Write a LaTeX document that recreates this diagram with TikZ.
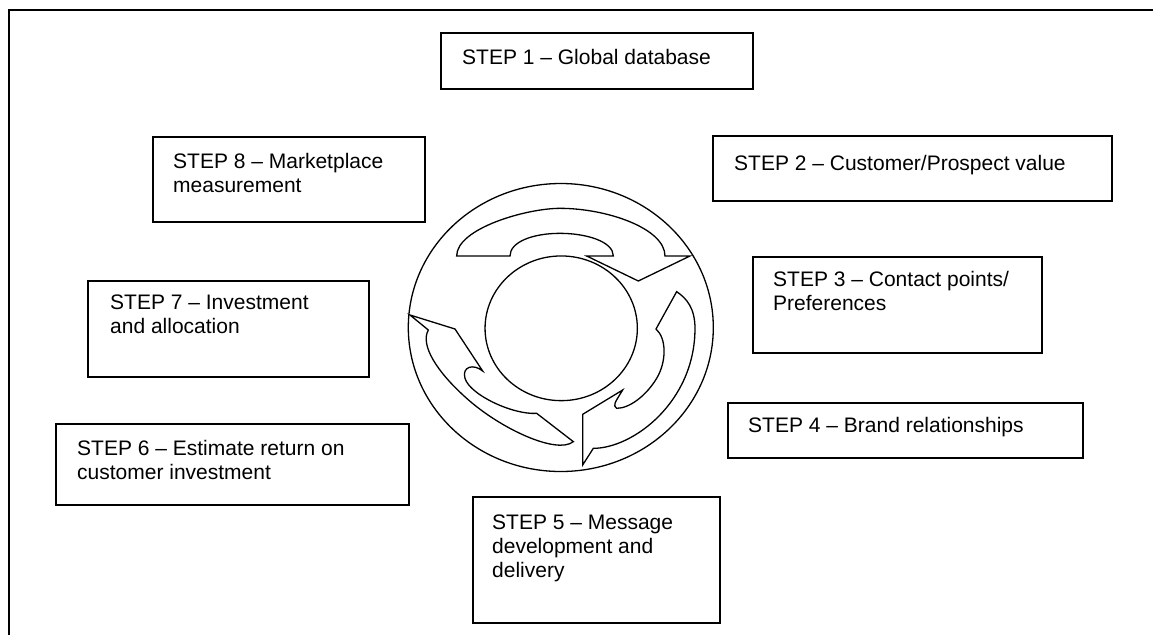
\documentclass[tikz,border=0pt]{standalone}
\usepackage{fontspec}
\setmainfont{Liberation Sans}
\usetikzlibrary{fit,shapes.geometric}
\begin{document}
\begin{tikzpicture}[x=1pt,y=-1pt,
  stepbox/.style={draw, line width=1.6pt, rectangle, inner sep=0pt},
  steptext/.style={anchor=north west, inner sep=0pt, align=left, font=\fontsize{21}{24}\selectfont},
  ring/.style={draw, line width=1.3pt, ellipse, inner sep=0pt},
  cyc/.style={draw, line width=1.3pt, line join=miter}]
\useasboundingbox (0,0) rectangle (1153,635);
% frame
\draw[line width=2pt] (1153,10) -- (9.3,10) -- (9.3,635);
% boxes
\node[stepbox, fit={(441,33) (753,89)}] (b1) {};
\node[stepbox, fit={(713,136) (1112,201)}] (b2) {};
\node[stepbox, fit={(753,257) (1042,353)}] (b3) {};
\node[stepbox, fit={(728,403) (1083,458)}] (b4) {};
\node[stepbox, fit={(473,497) (720,623)}] (b5) {};
\node[stepbox, fit={(56,424) (409,505)}] (b6) {};
\node[stepbox, fit={(88,281) (369,377)}] (b7) {};
\node[stepbox, fit={(153,137) (425,222)}] (b8) {};
% texts
\node[steptext] (t1) at (462,49) {STEP 1 – Global database};
\node[steptext] (t2) at (734,155) {STEP 2 – Customer/Prospect value};
\node[steptext] (t3) at (773,271) {STEP 3 – Contact points/\\Preferences};
\node[steptext] (t4) at (748,417) {STEP 4 – Brand relationships};
\node[steptext] (t5) at (492,515) {STEP 5 – Message\\development and\\delivery};
\node[steptext] (t6) at (77,440) {STEP 6 – Estimate return on\\customer investment};
\node[steptext] (t7) at (110,295) {STEP 7 – Investment\\and allocation};
\node[steptext] (t8) at (173,153) {STEP 8 – Marketplace\\measurement};
% rings
\node[ring, minimum width=305pt, minimum height=288pt] (outer) at (560.8,327.5) {};
\node[ring, minimum width=152.3pt, minimum height=144.7pt] (inner) at (561.2,328.3) {};
% circular arrows
\begin{scope}[x=0.33333pt, y=-0.33333pt, shift={(1200,525)}]
\draw[cyc] (170,243) .. controls (170,160) and (380,100) .. (480,100)
  .. controls (620,100) and (795,160) .. (795,243) -- (870,243) -- (715,318)
  -- (560,243) -- (640,243) .. controls (640,200) and (560,175) .. (480,175)
  .. controls (400,175) and (330,200) .. (330,243) -- cycle;
\draw[cyc] (830,350) -- (768,462) .. controls (800,490) and (800,560) .. (770,610)
  .. controls (740,660) and (690,700) .. (650,700) .. controls (640,690) .. (668,645)
  -- (548,718) -- (548,870) -- (580,820) .. controls (700,820) and (885,680) .. (885,460)
  .. controls (885,400) and (860,370) .. (830,350) -- cycle;
\draw[cyc] (30,420) -- (165,462) -- (248,588) .. controls (220,565) and (185,575) .. (195,610)
  .. controls (210,660) and (340,720) .. (410,715) -- (520,800)
  .. controls (470,840) and (300,760) .. (200,670) .. controls (110,590) and (60,510) .. (85,465)
  -- cycle;
\end{scope}
\end{tikzpicture}
\end{document}
